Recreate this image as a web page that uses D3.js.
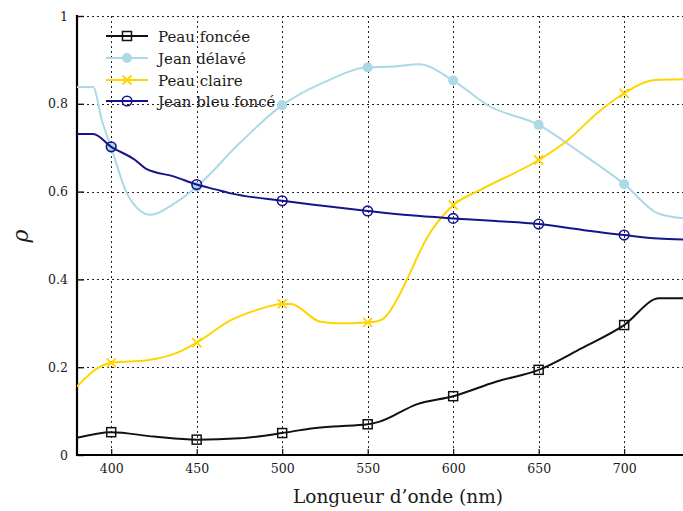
<!DOCTYPE html>
<html><head><meta charset="utf-8">
<script src="https://cdn.jsdelivr.net/npm/d3@7"></script>
<style>
html,body{margin:0;padding:0;background:#fff;}
svg{display:block;}
text{font-family:"DejaVu Serif","Liberation Serif",serif;fill:#1a1a1a;}
</style></head>
<body>
<svg id="chart" width="683" height="511"></svg>
<script>
// ---- data ----
const xTicks = [400, 450, 500, 550, 600, 650, 700];
const yTicks = [0, 0.2, 0.4, 0.6, 0.8, 1];
const yTickLabels = ["0", "0.2", "0.4", "0.6", "0.8", "1"];
const markerWl = [400, 450, 500, 550, 600, 650, 700];

const seriesNames = ["Peau foncée", "Jean délavé", "Peau claire", "Jean bleu foncé"];
const seriesColors = ["#111111", "#add8e6", "#ffd400", "#14148c"];
const seriesMarkers = ["square", "disc", "cross", "circle"];

const peauFonceeWl  = [380, 400, 425, 450, 475, 500, 516, 530, 550, 557, 579, 600, 625, 650, 675, 700, 720.5, 735];
const peauFonceeVal = [0.039, 0.052, 0.042, 0.035, 0.038, 0.050, 0.060, 0.065, 0.070, 0.076, 0.116, 0.134, 0.167, 0.194, 0.243, 0.296, 0.357, 0.357];

const jeanDelaveWl  = [380, 389.4, 394.5, 400, 410, 423, 437, 450, 475, 500, 525, 550, 565, 580, 600, 621, 650, 675, 700, 720, 735];
const jeanDelaveVal = [0.838, 0.838, 0.763, 0.700, 0.590, 0.547, 0.573, 0.611, 0.710, 0.797, 0.850, 0.883, 0.885, 0.890, 0.853, 0.795, 0.752, 0.687, 0.617, 0.550, 0.539];

const peauClaireWl  = [380, 393, 400, 421, 438, 450, 470, 485, 500, 505, 522, 532, 550, 557.5, 569, 573, 584, 600, 616, 650, 667, 684, 700, 718, 735];
const peauClaireVal = [0.156, 0.200, 0.210, 0.216, 0.232, 0.256, 0.307, 0.330, 0.344, 0.344, 0.304, 0.300, 0.302, 0.307, 0.368, 0.400, 0.490, 0.569, 0.604, 0.672, 0.717, 0.778, 0.824, 0.854, 0.856];

const jeanBleuWl  = [380, 389.5, 400, 414, 420, 437, 450, 461, 470, 500, 525, 550, 575, 600, 625, 650, 675, 700, 720, 735];
const jeanBleuVal = [0.731, 0.731, 0.702, 0.672, 0.653, 0.634, 0.616, 0.605, 0.596, 0.579, 0.567, 0.556, 0.546, 0.539, 0.533, 0.526, 0.513, 0.501, 0.493, 0.491];

const seriesWl  = [peauFonceeWl, jeanDelaveWl, peauClaireWl, jeanBleuWl];
const seriesVal = [peauFonceeVal, jeanDelaveVal, peauClaireVal, jeanBleuVal];

(function () {
// ---- layout ----
const svg = d3.select("#chart");
const pLeft = 77, pRight = 684, pTop = 16, pBottom = 455;
const x = d3.scaleLinear().domain([380, 735]).range([pLeft, pRight]);
const y = d3.scaleLinear().domain([0, 1]).range([pBottom, pTop]);

svg.append("defs").append("clipPath").attr("id", "clip")
  .append("rect").attr("x", pLeft).attr("y", pTop - 6).attr("width", 700).attr("height", pBottom - pTop + 6);

// grid
const grid = svg.append("g").attr("stroke", "#222").attr("stroke-width", 1).attr("stroke-dasharray", "2,3");
grid.selectAll("line.v").data(xTicks).join("line").attr("class", "v")
  .attr("x1", d => Math.round(x(d)) + 0.5).attr("x2", d => Math.round(x(d)) + 0.5)
  .attr("y1", pTop).attr("y2", pBottom);
grid.selectAll("line.h").data(yTicks.filter(d => d > 0)).join("line").attr("class", "h")
  .attr("y1", d => Math.round(y(d)) + 0.5).attr("y2", d => Math.round(y(d)) + 0.5)
  .attr("x1", pLeft).attr("x2", 683);

// axes
const yAxis = d3.axisLeft(y).tickValues(yTicks).tickSize(-7).tickPadding(9)
  .tickFormat((d, i) => yTickLabels[i]);
const gy = svg.append("g").attr("transform", `translate(${pLeft},0)`).call(yAxis);
gy.select(".domain").remove();
gy.selectAll(".tick line").attr("stroke", "#111").attr("stroke-width", 1.4);
gy.selectAll(".tick text").attr("font-size", 12.5).attr("fill", "#1a1a1a");

const xAxis = d3.axisBottom(x).tickValues(xTicks).tickSize(-6).tickPadding(9).tickFormat(d3.format("d"));
const gx = svg.append("g").attr("transform", `translate(0,${pBottom})`).call(xAxis);
gx.select(".domain").remove();
gx.selectAll(".tick line").attr("stroke", "#111").attr("stroke-width", 1.2);
gx.selectAll(".tick text").attr("font-size", 12.5).attr("fill", "#1a1a1a");

// spines
svg.append("line").attr("x1", pLeft).attr("x2", pLeft).attr("y1", pTop - 1).attr("y2", pBottom + 1)
  .attr("stroke", "#000").attr("stroke-width", 2.2);
svg.append("line").attr("x1", pLeft - 1).attr("x2", 683).attr("y1", pBottom).attr("y2", pBottom)
  .attr("stroke", "#000").attr("stroke-width", 2.2);

// curves
const line = d3.line().x(d => x(d[0])).y(d => y(d[1])).curve(d3.curveMonotoneX);
const plot = svg.append("g").attr("clip-path", "url(#clip)");

function drawMarker(g, type, color, cx, cy) {
  if (type === "square") {
    g.append("rect").attr("x", cx - 4.5).attr("y", cy - 4.5).attr("width", 9).attr("height", 9)
      .attr("fill", "none").attr("stroke", color).attr("stroke-width", 1.5);
  } else if (type === "disc") {
    g.append("circle").attr("cx", cx).attr("cy", cy).attr("r", 5).attr("fill", color);
  } else if (type === "cross") {
    const s = 4.5;
    g.append("path").attr("d", `M${cx - s},${cy - s}L${cx + s},${cy + s}M${cx - s},${cy + s}L${cx + s},${cy - s}`)
      .attr("stroke", color).attr("stroke-width", 1.8).attr("fill", "none");
  } else {
    g.append("circle").attr("cx", cx).attr("cy", cy).attr("r", 4.8)
      .attr("fill", "none").attr("stroke", color).attr("stroke-width", 1.6);
  }
}

seriesNames.forEach((name, i) => {
  const pts = seriesWl[i].map((w, j) => [w, seriesVal[i][j]]);
  plot.append("path").datum(pts).attr("d", line)
    .attr("fill", "none").attr("stroke", seriesColors[i]).attr("stroke-width", 2);
  const mg = plot.append("g");
  markerWl.forEach(w => {
    const j = seriesWl[i].indexOf(w);
    drawMarker(mg, seriesMarkers[i], seriesColors[i], x(w), y(seriesVal[i][j]));
  });
});

// legend
const legY = [36, 58, 80, 101];
const leg = svg.append("g");
seriesNames.forEach((name, i) => {
  leg.append("line").attr("x1", 106).attr("x2", 148).attr("y1", legY[i]).attr("y2", legY[i])
    .attr("stroke", seriesColors[i]).attr("stroke-width", 2);
  drawMarker(leg, seriesMarkers[i], seriesColors[i], 127, legY[i]);
  leg.append("text").attr("x", 158).attr("y", legY[i] + 5.5).attr("font-size", 15).text(name);
});

// axis titles
svg.append("text").attr("x", 398).attr("y", 503).attr("text-anchor", "middle")
  .attr("font-size", 18.5).text("Longueur d’onde (nm)");
svg.append("text").attr("transform", "translate(28,236) rotate(-90)").attr("text-anchor", "middle")
  .attr("font-size", 22).attr("font-style", "italic").text("ρ");
})();
</script>
</body></html>
